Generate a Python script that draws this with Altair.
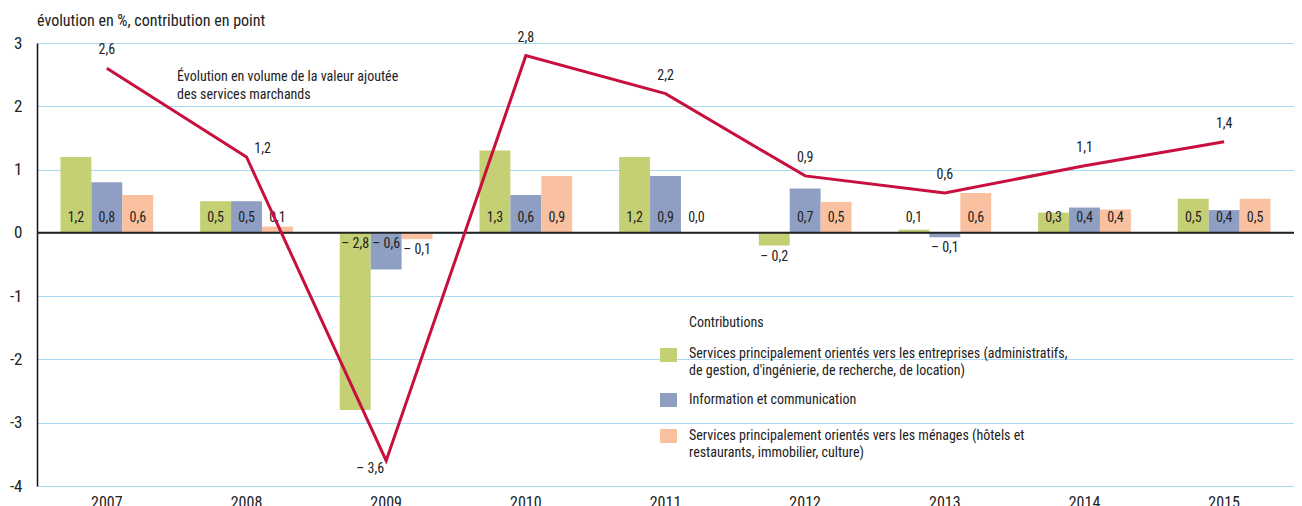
import altair as alt
import pandas as pd

years = ["2007", "2008", "2009", "2010", "2011", "2012", "2013", "2014", "2015"]
series = [
    "Services principalement orientés vers les entreprises (administratifs, de gestion, d'ingénierie, de recherche, de location)",
    "Information et communication",
    "Services principalement orientés vers les ménages (hôtels et restaurants, immobilier, culture)",
]
legend_text = [
    "Services principalement orientés vers les entreprises (administratifs,|de gestion, d'ingénierie, de recherche, de location)",
    "Information et communication",
    "Services principalement orientés vers les ménages (hôtels et|restaurants, immobilier, culture)",
]
colors = ["#c5cf73", "#8f9fc4", "#f9c1a0"]

entreprises = [1.2, 0.5, -2.8, 1.3, 1.2, -0.2, 0.05, 0.32, 0.54]
information = [0.8, 0.5, -0.58, 0.6, 0.9, 0.7, -0.07, 0.4, 0.36]
menages = [0.6, 0.1, -0.1, 0.9, 0.0, 0.49, 0.63, 0.37, 0.54]
entreprises_lbl = ["1,2", "0,5", "– 2,8", "1,3", "1,2", "– 0,2", "0,1", "0,3", "0,5"]
information_lbl = ["0,8", "0,5", "– 0,6", "0,6", "0,9", "0,7", "– 0,1", "0,4", "0,4"]
menages_lbl = ["0,6", "0,1", "– 0,1", "0,9", "0,0", "0,5", "0,6", "0,4", "0,5"]

evolution = [2.6, 1.2, -3.6, 2.8, 2.2, 0.9, 0.63, 1.06, 1.44]
evolution_lbl = ["2,6", "1,2", "– 3,6", "2,8", "2,2", "0,9", "0,6", "1,1", "1,4"]

FONT = "Liberation Sans Narrow, Roboto Condensed, Liberation Sans, Arial"
TXT = "#222222"

rows = []
for s, vals, lbls in zip(series, [entreprises, information, menages],
                         [entreprises_lbl, information_lbl, menages_lbl]):
    for y, v, l in zip(years, vals, lbls):
        ly = v if (-0.3 < v < 0) else 0.0
        rows.append({"year": y, "series": s, "value": v, "label": l, "ly": ly})
bars_df = pd.DataFrame(rows)
line_df = pd.DataFrame({"year": years, "value": evolution, "label": evolution_lbl})

x_enc = alt.X(
    "year:N", sort=years, title="",
    scale=alt.Scale(paddingInner=0.336, paddingOuter=0.168),
    axis=alt.Axis(labelAngle=0, domain=False, ticks=False, grid=False,
                  labelPadding=8, labelFontSize=16, labelFontWeight="normal",
                  labelColor=TXT, labelFont=FONT),
)
y_scale = alt.Scale(domain=[-4, 3], nice=False, zero=False)
y_axis = alt.Axis(values=[-4, -3, -2, -1, 0, 1, 2, 3], grid=True, gridColor="#a9dbf3",
                  gridWidth=1.2, domain=True, domainColor="#111111", domainWidth=1.5,
                  ticks=False, labelPadding=15, labelFontSize=17, labelColor=TXT,
                  labelFontWeight="normal", labelFont=FONT, labelExpr="'' + datum.value")
xoff = alt.XOffset("series:N", sort=series)

bars = alt.Chart(bars_df).mark_bar().encode(
    x=x_enc,
    xOffset=xoff,
    y=alt.Y("value:Q", scale=y_scale, axis=y_axis, title=""),
    color=alt.Color("series:N", sort=series,
                    scale=alt.Scale(domain=series, range=colors), legend=None),
)

pos_lbl = alt.Chart(bars_df).transform_filter("datum.value >= 0").mark_text(
    font=FONT, fontSize=14, color=TXT, baseline="middle", dy=-15
).encode(x=alt.X("year:N", sort=years), xOffset=xoff, y=alt.Y("ly:Q"), text="label:N")

neg_lbl = alt.Chart(bars_df).transform_filter("datum.value < 0").mark_text(
    font=FONT, fontSize=14, color=TXT, baseline="middle", dy=11
).encode(x=alt.X("year:N", sort=years), xOffset=xoff, y=alt.Y("ly:Q"), text="label:N")

zero = alt.Chart(pd.DataFrame({"z": [0]})).mark_rule(color="#222222", strokeWidth=2).encode(
    y=alt.Y("z:Q")
)

line = alt.Chart(line_df).mark_line(color="#c8103e", strokeWidth=3).encode(
    x=alt.X("year:N", sort=years), y=alt.Y("value:Q")
)

line_lbl_main = alt.Chart(line_df).transform_filter(
    "datum.year != '2008' && datum.year != '2009'"
).mark_text(font=FONT, fontSize=14, color=TXT, baseline="middle", dy=-18).encode(
    x=alt.X("year:N", sort=years), y=alt.Y("value:Q"), text="label:N"
)
line_lbl_2008 = alt.Chart(line_df).transform_filter("datum.year == '2008'").mark_text(
    font=FONT, fontSize=14, color=TXT, baseline="middle", dx=16, dy=-8
).encode(x=alt.X("year:N", sort=years), y=alt.Y("value:Q"), text="label:N")
line_lbl_2009 = alt.Chart(line_df).transform_filter("datum.year == '2009'").mark_text(
    font=FONT, fontSize=14, color=TXT, baseline="middle", dx=-16, dy=8
).encode(x=alt.X("year:N", sort=years), y=alt.Y("value:Q"), text="label:N")

annot = alt.Chart(pd.DataFrame({"t": ["Évolution en volume de la valeur ajoutée|des services marchands"]})).mark_text(
    font=FONT, fontSize=14, color=TXT, align="left", baseline="middle", lineBreak="|", lineHeight=18
).encode(x=alt.value(140), y=alt.value(34), text="t:N")

# legend (manual)
leg_layers = []
leg_layers.append(
    alt.Chart(pd.DataFrame({"t": ["Contributions"]})).mark_text(
        font=FONT, fontSize=14, color=TXT, align="left", baseline="middle"
    ).encode(x=alt.value(652), y=alt.value(280), text="t:N")
)
swatch_y = [305, 350, 386]
text_y = [311, 357, 393]
for c, t, sy, ty in zip(colors, legend_text, swatch_y, text_y):
    leg_layers.append(
        alt.Chart(pd.DataFrame({"t": [t]})).mark_rect(color=c).encode(
            x=alt.value(623), x2=alt.value(640), y=alt.value(sy), y2=alt.value(sy + 14)
        )
    )
    leg_layers.append(
        alt.Chart(pd.DataFrame({"t": [t]})).mark_text(
            font=FONT, fontSize=14, color=TXT, align="left", baseline="middle",
            lineBreak="|", lineHeight=17
        ).encode(x=alt.value(652), y=alt.value(ty), text="t:N")
    )

chart = alt.layer(
    bars, pos_lbl, neg_lbl, zero, line, line_lbl_main, line_lbl_2008, line_lbl_2009,
    annot, *leg_layers
).properties(
    width=1257, height=443,
    title=alt.TitleParams("évolution en %, contribution en point", anchor="start", frame="group",
                          font=FONT, fontSize=16, fontWeight="normal", color=TXT, offset=2),
    autosize=alt.AutoSizeParams(type="none"),
    padding={"left": 29, "top": 35, "right": 0, "bottom": 20},
).configure_view(stroke=None).configure(background="white")

chart.save("out.html", embed_options={"renderer": "svg", "actions": False})
